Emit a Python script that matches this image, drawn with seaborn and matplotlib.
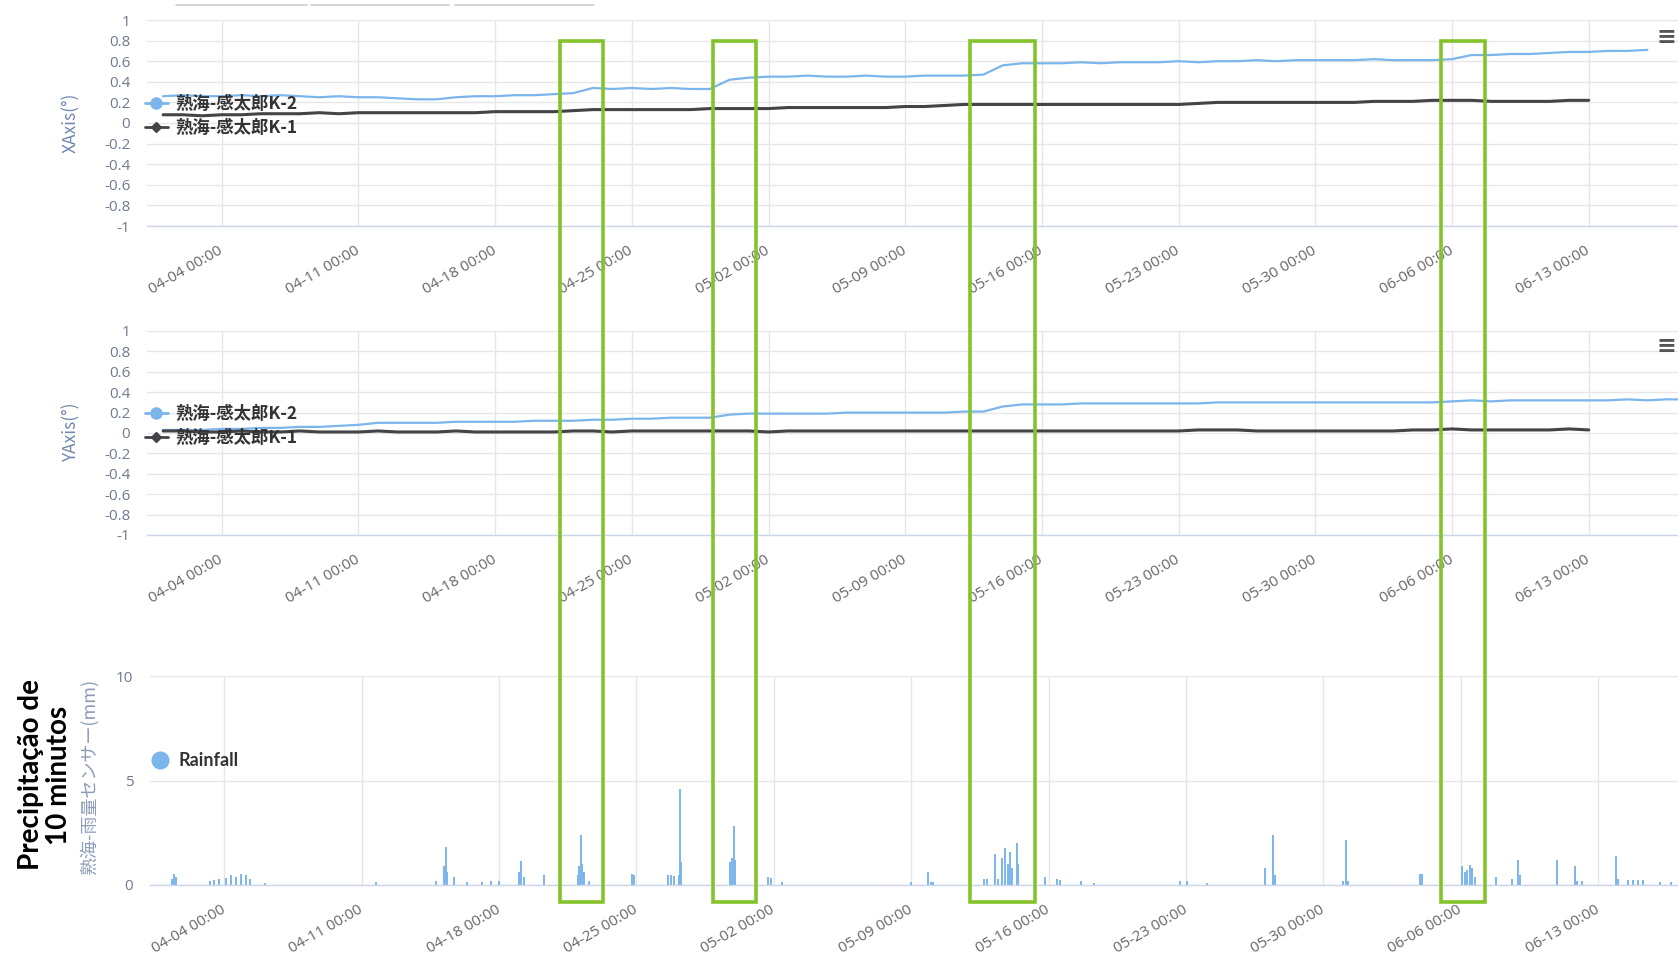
import numpy as np
import pandas as pd
import matplotlib
matplotlib.use("Agg")
import matplotlib.pyplot as plt
import matplotlib.dates as mdates
from matplotlib.lines import Line2D
from matplotlib.patches import Rectangle
from matplotlib.ticker import FuncFormatter, FixedLocator
import seaborn as sns

# ---------------- data ----------------
YEAR = "2019"
SERIES_K2 = "熟海-感太郎K-2"
SERIES_K1 = "熟海-感太郎K-1"
SERIES_RAIN = "Rainfall"

series_start = YEAR + "-04-01"

# XAxis (deg), daily values
x_k2 = [0.26, 0.27, 0.26, 0.26, 0.27, 0.26, 0.27, 0.26, 0.25, 0.26, 0.25, 0.25, 0.24, 0.23,
        0.23, 0.25, 0.26, 0.26, 0.27, 0.27, 0.28, 0.29, 0.34, 0.33, 0.34, 0.33, 0.34, 0.33,
        0.33, 0.42, 0.44, 0.45, 0.45, 0.46, 0.45, 0.45, 0.46, 0.45, 0.45, 0.46, 0.46, 0.46,
        0.47, 0.56, 0.58, 0.58, 0.58, 0.59, 0.58, 0.59, 0.59, 0.59, 0.60, 0.59, 0.60, 0.60,
        0.61, 0.60, 0.61, 0.61, 0.61, 0.61, 0.62, 0.61, 0.61, 0.61, 0.62, 0.66, 0.66, 0.67,
        0.67, 0.68, 0.69, 0.69, 0.70, 0.70, 0.71]
x_k1 = [0.08, 0.08, 0.07, 0.08, 0.08, 0.09, 0.09, 0.09, 0.10, 0.09, 0.10, 0.10, 0.10, 0.10,
        0.10, 0.10, 0.10, 0.11, 0.11, 0.11, 0.11, 0.12, 0.13, 0.13, 0.13, 0.13, 0.13, 0.13,
        0.14, 0.14, 0.14, 0.14, 0.15, 0.15, 0.15, 0.15, 0.15, 0.15, 0.16, 0.16, 0.17, 0.18,
        0.18, 0.18, 0.18, 0.18, 0.18, 0.18, 0.18, 0.18, 0.18, 0.18, 0.18, 0.19, 0.20, 0.20,
        0.20, 0.20, 0.20, 0.20, 0.20, 0.20, 0.21, 0.21, 0.21, 0.22, 0.22, 0.22, 0.21, 0.21,
        0.21, 0.21, 0.22, 0.22]
# YAxis (deg), daily values
y_k2 = [0.03, 0.03, 0.03, 0.04, 0.04, 0.05, 0.05, 0.06, 0.06, 0.07, 0.08, 0.10, 0.10, 0.10,
        0.10, 0.11, 0.11, 0.11, 0.11, 0.12, 0.12, 0.12, 0.13, 0.13, 0.14, 0.14, 0.15, 0.15,
        0.15, 0.18, 0.19, 0.19, 0.19, 0.19, 0.19, 0.20, 0.20, 0.20, 0.20, 0.20, 0.20, 0.21,
        0.21, 0.26, 0.28, 0.28, 0.28, 0.29, 0.29, 0.29, 0.29, 0.29, 0.29, 0.29, 0.30, 0.30,
        0.30, 0.30, 0.30, 0.30, 0.30, 0.30, 0.30, 0.30, 0.30, 0.30, 0.31, 0.32, 0.31, 0.32,
        0.32, 0.32, 0.32, 0.32, 0.32, 0.33, 0.32, 0.33, 0.33]
y_k1 = [0.02, 0.02, 0.01, 0.01, 0.02, 0.01, 0.01, 0.02, 0.01, 0.01, 0.01, 0.02, 0.01, 0.01,
        0.01, 0.02, 0.01, 0.01, 0.01, 0.01, 0.01,
        0.02, 0.02, 0.01, 0.02, 0.02, 0.02, 0.02, 0.02, 0.02, 0.02, 0.01, 0.02, 0.02, 0.02,
        0.02, 0.02, 0.02, 0.02, 0.02, 0.02, 0.02, 0.02, 0.02, 0.02, 0.02, 0.02, 0.02, 0.02,
        0.02, 0.02, 0.02, 0.02,
        0.03, 0.03, 0.03, 0.02, 0.02, 0.02, 0.02, 0.02, 0.02, 0.02, 0.02, 0.03, 0.03, 0.04,
        0.03, 0.03, 0.03, 0.03, 0.03, 0.04, 0.03]

# 10-minute rainfall (mm)
rain_times = ["04-01 08:00", "04-01 10:30", "04-01 13:00", "04-03 07:00", "04-03 12:00",
              "04-03 18:00", "04-04 02:00", "04-04 08:00", "04-04 14:00", "04-04 20:00",
              "04-05 03:00", "04-05 07:00", "04-06 02:00", "04-11 17:00", "04-14 19:00",
              "04-15 05:00", "04-15 07:00", "04-15 09:00", "04-15 17:00", "04-16 09:00",
              "04-17 03:00", "04-17 14:00", "04-18 00:00", "04-19 00:00", "04-19 03:00",
              "04-19 06:00", "04-20 07:00", "04-22 00:00", "04-22 02:00", "04-22 04:00",
              "04-22 06:00", "04-22 08:00", "04-22 14:00", "04-24 18:00", "04-24 21:00",
              "04-26 14:00", "04-26 18:00", "04-26 22:00", "04-27 04:00", "04-27 05:00",
              "04-27 06:00", "04-29 19:00", "04-29 21:00", "04-29 23:00", "04-30 01:00",
              "05-01 17:00", "05-01 21:00", "05-02 10:00", "05-09 00:00", "05-09 21:00",
              "05-10 00:00", "05-10 03:00", "05-12 17:00", "05-12 21:00", "05-13 07:00",
              "05-13 10:00", "05-13 15:00", "05-13 19:00", "05-13 22:00", "05-14 01:00",
              "05-14 03:00", "05-14 09:00", "05-14 11:00", "05-15 20:00", "05-16 10:00",
              "05-16 14:00", "05-17 15:00", "05-18 07:00", "05-22 17:00", "05-23 01:00",
              "05-24 02:00", "05-27 00:00", "05-27 10:00", "05-27 13:00", "05-31 00:00",
              "05-31 03:00", "05-31 06:00", "06-03 22:00", "06-04 01:00", "06-06 01:00",
              "06-06 05:00", "06-06 08:00", "06-06 11:00", "06-06 14:00", "06-06 17:00",
              "06-07 19:00", "06-08 14:00", "06-08 22:00", "06-09 00:00", "06-10 22:00",
              "06-11 19:00", "06-11 22:00", "06-12 04:00", "06-13 22:00", "06-14 00:00",
              "06-14 12:00", "06-14 18:00", "06-15 00:00", "06-15 07:00", "06-16 03:00",
              "06-16 17:00"]
rain_mm = [0.3, 0.55, 0.4, 0.2, 0.25,
           0.3, 0.35, 0.5, 0.4, 0.55,
           0.5, 0.3, 0.1, 0.15, 0.2,
           0.9, 1.8, 0.6, 0.4, 0.15,
           0.15, 0.2, 0.2, 0.6, 1.15,
           0.4, 0.5, 0.5, 0.9, 2.4,
           1.0, 0.6, 0.2, 0.55, 0.5,
           0.5, 0.5, 0.45, 0.5, 4.6,
           1.1, 1.1, 1.3, 2.8, 1.2,
           0.4, 0.35, 0.15, 0.15, 0.6,
           0.15, 0.15, 0.3, 0.3, 1.5,
           0.3, 1.3, 1.75, 1.0, 1.6,
           0.8, 2.0, 1.0, 0.4, 0.3,
           0.25, 0.2, 0.1, 0.2, 0.2,
           0.1, 0.8, 2.4, 0.5, 0.2,
           2.15, 0.2, 0.55, 0.55, 0.9,
           0.6, 0.7, 0.95, 0.8, 0.4,
           0.4, 0.3, 1.2, 0.5, 1.2,
           0.9, 0.2, 0.2, 1.4, 0.3,
           0.25, 0.25, 0.25, 0.25, 0.15,
           0.15]

tick_dates = ["04-04", "04-11", "04-18", "04-25", "05-02", "05-09", "05-16",
              "05-23", "05-30", "06-06", "06-13"]
angle_ticks = [1, 0.8, 0.6, 0.4, 0.2, 0, -0.2, -0.4, -0.6, -0.8, -1]
rain_ticks = [0, 5, 10]

# highlighted event windows (green boxes)
event_starts = ["04-21 08:00", "04-29 04:00", "05-12 07:00", "06-05 11:00"]
event_ends = ["04-23 12:00", "05-01 08:00", "05-15 16:00", "06-07 17:00"]

# ---------------- style ----------------
W, H, DPI = 1678, 966, 100
C_K2, C_K1, C_GREEN = "#7cb5ec", "#434348", "#84c42b"
GRID, AXLINE, TICKC, TITLEC = "#e6e6e6", "#ccd6eb", "#666666", "#7088ad"

sns.set_theme(style="white")
plt.rcParams["font.family"] = ["Noto Sans CJK JP", "DejaVu Sans"]
plt.rcParams["axes.unicode_minus"] = False

fig = plt.figure(figsize=(W / DPI, H / DPI), dpi=DPI)
fig.patch.set_facecolor("white")


def px_axes(left, top, right, bottom):
    return fig.add_axes([left / W, 1 - bottom / H, (right - left) / W, (bottom - top) / H])


def ts(s):
    return pd.Timestamp(YEAR + "-" + s)


ax1 = px_axes(147, 20, 1678, 226)
ax2 = px_axes(147, 331, 1678, 535)
ax3 = px_axes(150, 676, 1678, 885)

ticks = [ts(d) for d in tick_dates]


def make_df(vals, name):
    t = pd.date_range(series_start, periods=len(vals), freq="D")
    return pd.DataFrame({"time": t, "value": vals, "series": name})


fmt_num = FuncFormatter(lambda v, _: "%g" % v)
LEG_PROP = {"size": 12.5, "weight": "bold", "family": ["Noto Sans CJK JP", "DejaVu Sans"]}

for ax, k2, k1 in [(ax1, x_k2, x_k1), (ax2, y_k2, y_k1)]:
    sns.lineplot(data=make_df(k2, SERIES_K2), x="time", y="value", color=C_K2,
                 linewidth=1.6, ax=ax, legend=False, estimator=None)
    sns.lineplot(data=make_df(k1, SERIES_K1), x="time", y="value", color=C_K1,
                 linewidth=2.2, ax=ax, legend=False, estimator=None)
    ax.set_ylim(-1, 1)
    ax.yaxis.set_major_locator(FixedLocator(angle_ticks))
    ax.yaxis.set_major_formatter(fmt_num)
    ax.set_xlim(ts("03-31 04:12"), ts("06-17 13:40"))
    handles = [Line2D([], [], color=C_K2, marker="o", markersize=8, lw=2),
               Line2D([], [], color=C_K1, marker="D", markersize=5.5, lw=2)]
    ax.legend(handles, [SERIES_K2, SERIES_K1], loc="center left",
              bbox_to_anchor=(0.0, 0.0), frameon=False, handlelength=1.3,
              handletextpad=0.45, labelspacing=0.3, borderpad=0, borderaxespad=0,
              prop=LEG_PROP, labelcolor="#333333")

# legend positions in figure pixels (center-left)
ax1.get_legend().set_bbox_to_anchor((145 / W, 1 - 116 / H), transform=fig.transFigure)
ax2.get_legend().set_bbox_to_anchor((145 / W, 1 - 426 / H), transform=fig.transFigure)

# rainfall
rt = [ts(t) for t in rain_times]
ax3.vlines(rt, 0, rain_mm, color=C_K2, linewidth=1.4)
ax3.set_ylim(0, 10)
ax3.yaxis.set_major_locator(FixedLocator(rain_ticks))
ax3.yaxis.set_major_formatter(fmt_num)
ax3.set_xlim(ts("03-31 05:17"), ts("06-17 01:26"))
ax3.legend([Line2D([], [], color=C_K2, marker="o", markersize=12, lw=0)], [SERIES_RAIN],
           loc="center left", bbox_to_anchor=(150 / W, 1 - 761 / H),
           bbox_transform=fig.transFigure, frameon=False, handlelength=1.1,
           handletextpad=0.5, borderpad=0, borderaxespad=0,
           prop={"size": 13, "weight": "bold", "family": ["Lato", "DejaVu Sans"]},
           labelcolor="#333333")

for ax in (ax1, ax2, ax3):
    ax.set_xlabel("")
    ax.set_ylabel("")
    ax.set_facecolor("white")
    ax.xaxis.set_major_locator(FixedLocator(mdates.date2num(ticks)))
    ax.xaxis.set_major_formatter(mdates.DateFormatter("%m-%d %H:%M"))
    ax.grid(True, color=GRID, linewidth=1)
    ax.set_axisbelow(True)
    for s in ("top", "right", "left"):
        ax.spines[s].set_visible(False)
    ax.spines["bottom"].set_color(AXLINE)
    ax.spines["bottom"].set_linewidth(1)
    ax.tick_params(axis="x", length=7, width=1, color=AXLINE, pad=10,
                   labelsize=11, labelcolor=TICKC, labelrotation=30)
    ax.tick_params(axis="y", length=0, pad=12, labelsize=11, labelcolor="#6e7a90")
    for lab in ax.get_xticklabels():
        lab.set_ha("right")
        lab.set_va("center")
        lab.set_rotation_mode("anchor")
        lab.set_fontfamily(["Open Sans", "DejaVu Sans"])
    for lab in ax.get_yticklabels():
        lab.set_fontfamily(["Open Sans", "DejaVu Sans"])

# axis titles
fig.text(71 / W, 1 - 123 / H, "XAxis(°)", rotation=90, ha="center", va="center",
         fontsize=12.5, color=TITLEC)
fig.text(71 / W, 1 - 432 / H, "YAxis(°)", rotation=90, ha="center", va="center",
         fontsize=12.5, color=TITLEC)
fig.text(89 / W, 1 - 777 / H, "熟海-雨量センサー(mm)", rotation=90, ha="center",
         va="center", fontsize=13, color="#8d9cb8")
fig.text(45 / W, 1 - 775 / H, "Precipitação de\n10 minutos", rotation=90, ha="center",
         va="center", fontsize=20, fontweight="bold", color="black",
         family=["Lato", "DejaVu Sans"], linespacing=1.05, multialignment="center")

# export-menu glyphs and range-selector remnants
for yc in (37, 346):
    fig.text(1666 / W, 1 - yc / H, "≡", ha="center", va="center", fontsize=17,
             color="#555555", family=["DejaVu Sans"], fontweight="bold")
for xa, xb in [(176, 307), (311, 449), (455, 594)]:
    fig.add_artist(Line2D([xa / W, xb / W], [1 - 5 / H, 1 - 5 / H],
                          transform=fig.transFigure, color="#cfcfcf", lw=1.2))

# green event boxes, positioned from data coordinates
for s, e in zip(event_starts, event_ends):
    x0, ytop = ax1.transData.transform((mdates.date2num(ts(s)), 0.8))
    x1, _ = ax1.transData.transform((mdates.date2num(ts(e)), 0.8))
    _, ybot = ax3.transData.transform((mdates.date2num(ts(s)), -0.8))
    rect = Rectangle((x0 / W, ybot / H), (x1 - x0) / W, (ytop - ybot) / H,
                     transform=fig.transFigure, fill=False, edgecolor=C_GREEN,
                     linewidth=2.6, zorder=50)
    fig.add_artist(rect)

fig.savefig("out.png", dpi=DPI, facecolor="white")
